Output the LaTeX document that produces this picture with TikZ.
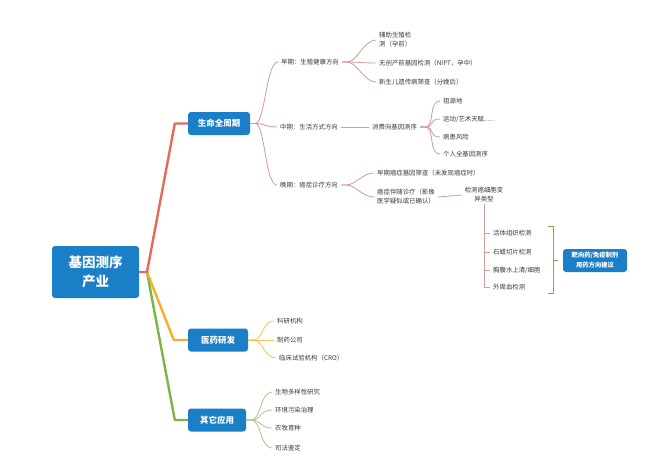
\documentclass[tikz,border=0pt]{standalone}
\usepackage{fontspec}
\setmainfont{Noto Sans CJK SC}
\usetikzlibrary{positioning,calc}
\definecolor{mapblue}{HTML}{1A7FC7}
\definecolor{redmain}{HTML}{E8685A}
\definecolor{redsub}{HTML}{D39C94}
\definecolor{yelmain}{HTML}{F2B02C}
\definecolor{yelsub}{HTML}{EEC455}
\definecolor{grnmain}{HTML}{78B648}
\definecolor{grnsub}{HTML}{A5CA86}
\definecolor{leaftxt}{HTML}{3A3A3A}

\begin{document}
\begin{tikzpicture}[
  x=1pt, y=-1pt,
  topic/.style={fill=mapblue, text=white, rounded corners=3pt, align=center, minimum height=23pt, font=\bfseries\fontsize{8.5}{10}\selectfont},
  rootbox/.style={topic, minimum width=87pt, minimum height=52pt, font=\bfseries\fontsize{13.5}{19}\selectfont},
  leaf/.style={anchor=west, text=leaftxt, align=left, inner xsep=3pt, inner ysep=1pt, font=\fontsize{6.4}{9}\selectfont},
  trunk/.style={line width=2.4pt, line join=round},
  twig/.style={line width=0.8pt, to path={-- ++(5,0) .. controls +(10,0) and ($(\tikztotarget)+(-12,0)$) .. (\tikztotarget)}},
  brk/.style={line width=0.8pt, grnmain},
]
  \useasboundingbox[fill=white] (0,0) rectangle (650,467);

  % main topics
  \node[rootbox] (root) at (95.5,272) {基因测序\\产业};
  \node[topic, minimum width=62pt] (life)   at (219,123.5) {生命全周期};
  \node[topic, minimum width=60pt] (pharma) at (218,340)   {医药研发};
  \node[topic, minimum width=58pt] (other)  at (217,420)   {其它应用};

  \coordinate (hub) at (147,272);
  \draw[trunk, grnmain] (hub) -- ($(other.west)+(-13,0)$)  -- (other.west);
  \draw[trunk, yelmain] (hub) -- ($(pharma.west)+(-14,0)$) -- (pharma.west);
  \draw[trunk, redmain] (root.east) -- (hub) -- ($(life.west)+(-13,0)$) -- (life.west);

  % life cycle
  \node[leaf] (early) at (278,62)  {早期：生殖健康方向};
  \node[leaf] (mid)   at (277,127) {中期：生活方式方向};
  \node[leaf] (late)  at (277,185) {晚期：癌症诊疗方向};
  \foreach \n in {early,mid,late}
    \draw[twig, redsub] (life.east) to (\n.west);

  \node[leaf, align=center] (repro)   at (376,40) {辅助生殖检\\测（孕前）};
  \node[leaf] (nipt)    at (376,63) {无创产前基因检测（NIPT，孕中）};
  \node[leaf] (newborn) at (376,82) {新生儿遗传病筛查（分娩后）};
  \foreach \n in {repro,nipt,newborn}
    \draw[twig, redsub] (early.east) to (\n.west);

  \node[leaf] (cons) at (369,127) {消费向基因测序};
  \draw[line width=0.8pt, redsub] (mid.east) -- (cons.west);
  \node[leaf] (origin) at (440,101) {祖源地};
  \node[leaf] (talent) at (440,119) {运动/艺术天赋......};
  \node[leaf] (risk)   at (440,137) {病患风险};
  \node[leaf] (wgs)    at (440,154) {个人全基因测序};
  \foreach \n in {origin,talent,risk,wgs}
    \draw[twig, redsub] (cons.east) to (\n.west);

  \node[leaf] (screen) at (374,173) {早期癌症基因筛查（未发现癌症时）};
  \node[leaf] (cdx)    at (374,197) {癌症伴随诊疗（影像\\医学疑似或已确认）};
  \foreach \n in {screen,cdx}
    \draw[twig, redsub] (late.east) to (\n.west);

  \node[leaf, anchor=center, align=center] (det) at (484,195) {检测癌细胞变\\异类型};
  \draw[line width=0.8pt, redsub] (cdx.east) -- (det.west);
  \node[leaf] (biopsy) at (490,233) {活体组织检测};
  \node[leaf] (ffpe)   at (490,252) {石蜡切片检测};
  \node[leaf] (fluid)  at (490,270) {胸腹水上清/细胞};
  \node[leaf] (blood)  at (490,287) {外周血检测};
  \foreach \n in {biopsy,ffpe,fluid,blood}
    \draw[line width=0.8pt, redsub] (det.south) |- (\n.west);

  \node[topic, minimum width=64pt, font=\bfseries\fontsize{6.3}{10}\selectfont] (advice) at (595,260.5) {靶向药/免疫制剂\\用药方向建议};
  \draw[brk] (548,226) -| (553,293) -- (548,293);
  \coordinate (brkmid) at (553,260.5);
  \draw[brk] (brkmid) -- ++(5,0);

  % pharma
  \node[leaf] (inst)  at (274,321) {科研机构};
  \node[leaf] (drug)  at (274,340) {制药公司};
  \node[leaf] (cro)   at (276,358) {临床试验机构（CRO）};
  \foreach \n in {inst,drug,cro}
    \draw[twig, yelsub] (pharma.east) to (\n.west);

  % other uses
  \node[leaf] (bio)   at (272,392) {生物多样性研究};
  \node[leaf] (env)   at (272,410) {环境污染治理};
  \node[leaf] (agri)  at (272,428) {农牧育种};
  \node[leaf] (court) at (272,448) {司法鉴定};
  \foreach \n in {bio,env,agri,court}
    \draw[twig, grnsub] (other.east) to (\n.west);
\end{tikzpicture}
\end{document}
